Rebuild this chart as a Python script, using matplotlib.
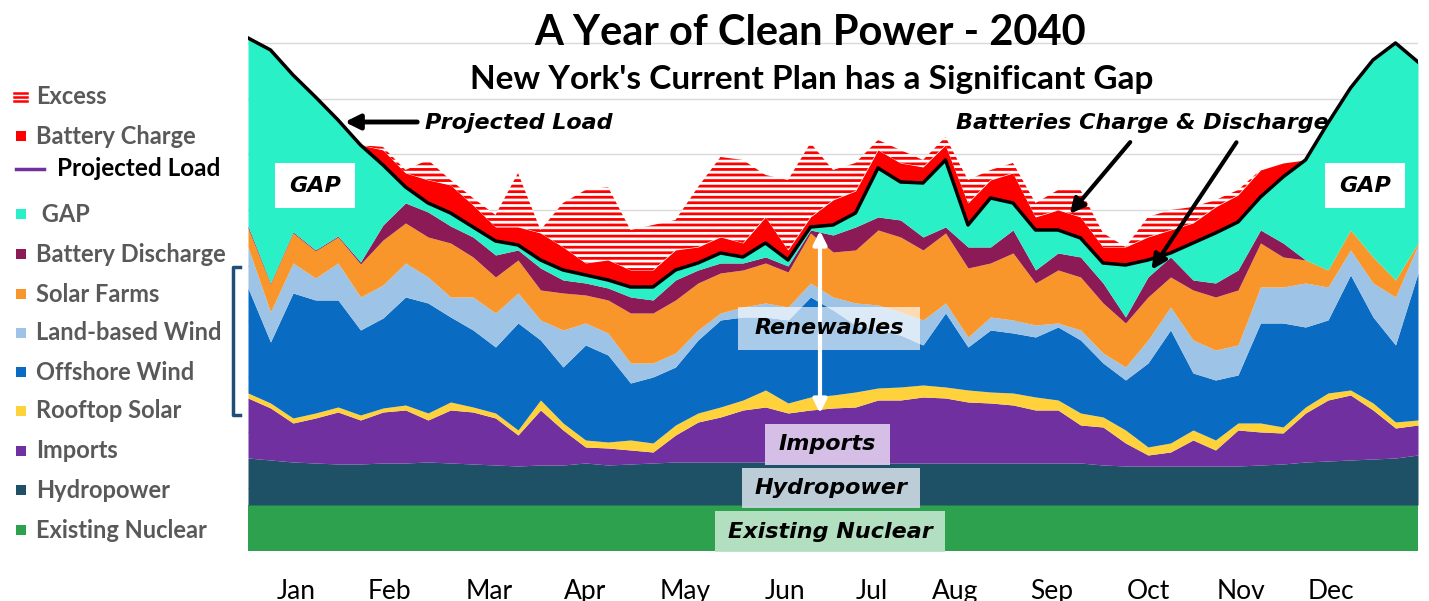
import numpy as np
import matplotlib
matplotlib.use("Agg")
import matplotlib.pyplot as plt
from matplotlib.patches import Rectangle
from matplotlib.lines import Line2D

plt.rcParams['font.family'] = ['Lato', 'DejaVu Sans']
plt.rcParams['hatch.linewidth'] = 2.0

##### weekly values (GW) #####
weeks = np.arange(53)
days = weeks * 7

nuclear = [4.14] * 53
hydro = [4.23, 4.05, 3.87, 3.78, 3.69, 3.69, 3.78, 3.78, 3.87, 3.78, 3.69, 3.60, 3.51, 3.60,
         3.60, 3.78, 3.60, 3.69, 3.78, 3.87, 3.87, 3.87, 3.87, 3.87, 3.87, 3.87, 3.78, 3.78,
         3.78, 3.78, 3.78, 3.78, 3.78, 3.78, 3.78, 3.78, 3.78, 3.78, 3.60, 3.51, 3.51, 3.51,
         3.51, 3.51, 3.51, 3.60, 3.69, 3.87, 3.96, 4.05, 4.14, 4.23, 4.50]
imports = [5.40, 4.68, 3.51, 4.05, 4.68, 3.96, 4.59, 4.77, 3.78, 4.77, 4.68, 4.23, 2.79, 4.95,
           3.15, 1.44, 1.53, 1.26, 0.99, 2.43, 3.60, 4.05, 4.68, 4.95, 4.41, 4.68, 4.95, 5.04,
           5.67, 5.67, 5.94, 5.85, 5.49, 5.40, 5.22, 4.77, 4.77, 3.42, 3.42, 2.07, 0.99, 1.26,
           2.34, 1.44, 3.24, 2.97, 2.79, 4.41, 5.49, 5.85, 4.41, 2.70, 2.70]
rooftop = [0.45, 0.45, 0.45, 0.45, 0.45, 0.45, 0.36, 0.45, 0.63, 0.72, 0.45, 0.45, 0.45, 0.90,
           0.63, 0.63, 0.54, 0.90, 0.81, 0.90, 0.81, 0.90, 0.90, 1.53, 0.90, 1.17, 1.17, 1.35,
           1.08, 1.17, 1.08, 0.99, 1.08, 0.99, 1.08, 1.17, 0.90, 1.08, 0.90, 1.17, 0.72, 0.81,
           0.90, 0.90, 0.63, 0.81, 0.54, 0.54, 0.63, 0.45, 0.63, 0.54, 0.45]
offshore = [9.45, 5.49, 11.25, 10.17, 9.63, 7.65, 8.10, 9.72, 9.90, 7.65, 6.93, 5.94, 9.63, 5.40,
            5.04, 8.55, 7.83, 5.13, 5.94, 5.22, 6.57, 7.83, 7.47, 6.57, 7.47, 9.00, 7.65, 6.03,
            5.22, 4.68, 3.60, 6.66, 3.87, 5.58, 5.40, 5.40, 6.57, 6.57, 4.86, 4.50, 7.56, 10.17,
            5.13, 5.40, 4.32, 9.00, 9.36, 7.20, 6.57, 10.35, 7.74, 6.93, 13.23]
landwind = [3.69, 2.70, 2.70, 1.98, 3.33, 2.97, 2.97, 3.06, 2.34, 1.80, 2.97, 3.06, 2.70, 1.80,
            3.33, 1.98, 1.98, 1.80, 1.26, 1.26, 0.90, 0.63, 0.90, 1.26, 1.17, 1.26, 1.17, 1.98,
            2.25, 2.07, 2.25, 0.90, 0.90, 1.17, 1.17, 1.08, 0.36, 0.90, 0.90, 1.17, 2.07, 2.07,
            2.97, 2.70, 2.70, 3.24, 3.24, 3.96, 2.97, 2.25, 3.06, 4.32, 2.52]
solar = [1.71, 2.52, 2.70, 2.43, 2.34, 2.97, 4.05, 3.60, 3.60, 4.86, 3.60, 3.24, 2.97, 2.70,
         3.33, 2.52, 2.97, 4.50, 4.50, 4.77, 4.23, 3.60, 3.33, 3.60, 3.15, 4.50, 4.05, 4.77,
         6.75, 6.75, 6.30, 6.30, 6.21, 4.86, 6.03, 3.78, 4.77, 4.77, 4.50, 3.96, 3.87, 2.70,
         4.50, 4.77, 4.95, 3.96, 2.70, 2.07, 1.53, 1.80, 2.34, 1.53, 0.18]
discharge = [0.18, 0.09, 0.09, 0.09, 0.09, 0.18, 1.35, 1.80, 2.25, 1.53, 1.80, 1.98, 0.90, 1.98,
             1.17, 1.08, 1.08, 1.44, 1.17, 1.80, 1.17, 0.90, 0.63, 0.54, 0.54, 0.27, 1.53, 2.07,
             1.17, 1.53, 1.17, 0.54, 1.89, 1.44, 2.07, 1.17, 1.53, 1.80, 1.80, 0.54, 1.80, 1.80,
             0.90, 1.26, 1.80, 1.17, 1.26, 0, 0, 0, 0, 0, 0]
load = [46.17, 45.09, 42.84, 40.86, 38.79, 36.54, 34.74, 32.76, 31.32, 30.42, 29.16, 27.90, 27.54,
        26.19, 25.29, 24.84, 24.39, 23.76, 23.76, 25.29, 25.92, 26.82, 26.46, 27.72, 26.19, 29.16,
        29.34, 30.42, 34.47, 33.21, 33.12, 35.19, 29.34, 31.77, 31.32, 28.89, 28.89, 28.17, 25.92,
        25.74, 26.19, 26.82, 27.72, 28.62, 29.61, 31.86, 33.66, 35.19, 38.52, 41.67, 44.19, 45.72,
        44.01]
charge = [0, 0, 0, 0, 0.18, 0, 1.35, 1.26, 2.07, 2.52, 1.98, 1.26, 1.62, 2.43, 2.07, 1.08, 1.80,
          1.53, 1.53, 1.80, 1.44, 1.44, 1.26, 2.34, 0.90, 0.90, 2.25, 1.98, 1.62, 1.71, 1.44, 1.35,
          1.98, 1.62, 2.70, 1.17, 1.80, 1.89, 1.44, 1.62, 2.07, 2.07, 1.80, 2.34, 2.43, 2.43, 1.26,
          0, 0, 0, 0, 0, 0]
excess = [0, 0, 0, 0, 0, 0, 0.27, 0.27, 1.80, 0.45, 0.63, 1.08, 4.86, 0.27, 3.96, 6.57, 6.57,
          3.60, 4.05, 2.70, 5.40, 7.20, 7.47, 3.78, 6.30, 6.66, 2.70, 2.52, 0.90, 1.17, 0.63, 0.72,
          2.07, 0.90, 0.90, 1.26, 1.80, 2.43, 1.26, 0, 1.80, 1.80, 1.44, 0.63, 0.45, 0, 0, 0, 0,
          0, 0, 0, 0]

month_names = ['Jan', 'Feb', 'Mar', 'Apr', 'May', 'Jun', 'Jul', 'Aug', 'Sep', 'Oct', 'Nov', 'Dec']
month_pos = [15, 44, 75, 105, 136, 167, 194, 220, 250, 280, 309, 337]

colors = {
    'Existing Nuclear': '#2DA14E',
    'Hydropower': '#1E5066',
    'Imports': '#7030A0',
    'Rooftop Solar': '#FFD23C',
    'Offshore Wind': '#0A6BC2',
    'Land-based Wind': '#9DC3E6',
    'Solar Farms': '#F8962B',
    'Battery Discharge': '#8B1A56',
    'GAP': '#2AF0C8',
    'Battery Charge': '#FF0000',
}

W, H = 1429, 601
ANN = ['DejaVu Sans']   # wide bold-italic face for the callouts


def fx(x):
    return x / W


def fy(y):
    return 1 - y / H


fig = plt.figure(figsize=(W / 100, H / 100), dpi=100)
ax = fig.add_axes([fx(248), fy(551), (1418 - 248) / W, 516.7 / H])

##### stacked supply #####
layers = [('Existing Nuclear', nuclear), ('Hydropower', hydro), ('Imports', imports),
          ('Rooftop Solar', rooftop), ('Offshore Wind', offshore), ('Land-based Wind', landwind),
          ('Solar Farms', solar), ('Battery Discharge', discharge)]
bottom = np.zeros(len(days))
for name, vals in layers:
    top = bottom + np.array(vals)
    ax.fill_between(days, bottom, top, color=colors[name], lw=0, zorder=2)
    bottom = top

load = np.array(load)
ax.fill_between(days, bottom, np.maximum(load, bottom), color=colors['GAP'], lw=0, zorder=2)
chg_top = load + np.array(charge)
ax.fill_between(days, load, chg_top, color=colors['Battery Charge'], lw=0, zorder=2)
ax.fill_between(days, chg_top, chg_top + np.array(excess), facecolor='white',
                edgecolor='#FF0000', hatch='---', lw=0, zorder=2)
ax.plot(days, load, color='black', lw=2.5, zorder=3)

ax.set_xlim(0, 364)
ax.set_ylim(0, 46.5)
ax.set_yticks(np.arange(0.69, 46, 5))
ax.set_yticklabels([])
ax.grid(axis='y', color='#d9d9d9', lw=1)
ax.set_axisbelow(True)
ax.set_xticks(month_pos)
ax.set_xticklabels(month_names, fontsize=19)
ax.tick_params(axis='both', length=0)
ax.tick_params(axis='x', pad=20)
for s in ax.spines.values():
    s.set_visible(False)

##### titles #####
fig.text(fx(810), fy(33), 'A Year of Clean Power - 2040', ha='center', va='center',
         fontsize=30, weight='bold')
fig.text(fx(812), fy(80), "New York's Current Plan has a Significant Gap", ha='center',
         va='center', fontsize=24, weight='bold')

##### annotations #####
fig.text(fx(425), fy(123), 'Projected Load', ha='left', va='center', fontsize=16,
         weight='bold', style='italic', family=ANN)
ax.annotate('', xy=(fx(342), fy(122)), xytext=(fx(420), fy(122)), xycoords='figure fraction',
            arrowprops=dict(arrowstyle='-|>', color='black', lw=3.5, mutation_scale=22))
fig.text(fx(1142), fy(123), 'Batteries Charge & Discharge', ha='center', va='center',
         fontsize=16, weight='bold', style='italic', family=ANN)
ax.annotate('', xy=(fx(1068), fy(216)), xytext=(fx(1132), fy(140)), xycoords='figure fraction',
            arrowprops=dict(arrowstyle='-|>', color='black', lw=3, mutation_scale=22))
ax.annotate('', xy=(fx(1150), fy(272)), xytext=(fx(1238), fy(140)), xycoords='figure fraction',
            arrowprops=dict(arrowstyle='-|>', color='black', lw=3, mutation_scale=22))

for xc in (315, 1365):
    fig.patches.append(Rectangle((fx(xc - 40), fy(208)), 80 / W, 45 / H, transform=fig.transFigure,
                                 facecolor='white', edgecolor='none', zorder=4))
    fig.text(fx(xc), fy(186), 'GAP', ha='center', va='center', fontsize=16, weight='bold',
             style='italic', family=ANN, zorder=5)

ax.annotate('', xy=(fx(820), fy(228)), xytext=(fx(820), fy(416)), xycoords='figure fraction',
            arrowprops=dict(arrowstyle='<|-|>', color='white', lw=3, mutation_scale=20), zorder=6)

boxes = [('Renewables', 738, 307, 920, 350, 'white', 0.65),
         ('Imports', 765, 424, 890, 465, '#DCC8EC', 0.95),
         ('Hydropower', 742, 468, 920, 508, '#C7D5DE', 0.95),
         ('Existing Nuclear', 715, 511, 945, 552, '#B9E3C6', 0.95)]
for label, x0, y0, x1, y1, fc, alpha in boxes:
    fig.patches.append(Rectangle((fx(x0), fy(y1)), (x1 - x0) / W, (y1 - y0) / H,
                                 transform=fig.transFigure, facecolor=fc, alpha=alpha,
                                 edgecolor='none', zorder=4))
    fig.text(fx((x0 + x1) / 2), fy((y0 + y1) / 2), label, ha='center', va='center', fontsize=16,
             weight='bold', style='italic', family=ANN, zorder=5)

##### legend #####
legend_items = [('Battery Charge', 136), ('GAP', 214), ('Battery Discharge', 254),
                ('Solar Farms', 294), ('Land-based Wind', 333), ('Offshore Wind', 372),
                ('Rooftop Solar', 411), ('Imports', 451), ('Hydropower', 490),
                ('Existing Nuclear', 530)]
for label, yc in legend_items:
    fig.patches.append(Rectangle((fx(16), fy(yc + 5)), 10 / W, 10 / H, transform=fig.transFigure,
                                 facecolor=colors[label], edgecolor='none'))
    txt = ' ' + label if label == 'GAP' else label
    fig.text(fx(36), fy(yc), txt, ha='left', va='center', fontsize=17, weight='bold',
             color='#595959')

for yy in (93, 97, 101):
    fig.lines.append(Line2D([fx(14), fx(27)], [fy(yy), fy(yy)], transform=fig.transFigure,
                            color='#FF0000', lw=1.8))
fig.text(fx(36), fy(97), 'Excess', ha='left', va='center', fontsize=17, weight='bold',
         color='#595959')
fig.lines.append(Line2D([fx(16), fx(44)], [fy(169), fy(169)], transform=fig.transFigure,
                        color='#7030A0', lw=2.5))
fig.text(fx(57), fy(169), 'Projected Load', ha='left', va='center', fontsize=17.5, weight='bold',
         color='black')

# bracket for renewables
fig.lines.append(Line2D([fx(240), fx(233), fx(233), fx(240)], [fy(267), fy(267), fy(415), fy(415)],
                        transform=fig.transFigure, color='#1F4E79', lw=2.5))

fig.savefig('out.png', dpi=100)
